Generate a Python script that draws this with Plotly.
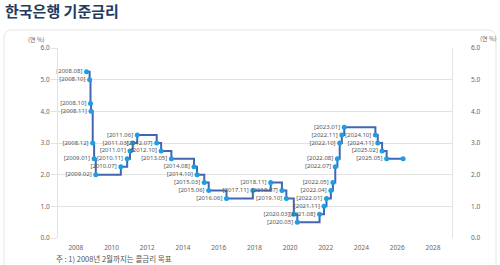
import plotly.graph_objects as go

dates = ["2008-08-07", "2008-10-09", "2008-10-27", "2008-11-07", "2008-12-11",
         "2009-01-09", "2009-02-12", "2010-07-09", "2010-11-16", "2011-01-13",
         "2011-03-10", "2011-06-10", "2012-07-12", "2012-10-11", "2013-05-09",
         "2014-08-14", "2014-10-15", "2015-03-12", "2015-06-11", "2016-06-09",
         "2017-11-30", "2018-11-30", "2019-07-18", "2019-10-16", "2020-03-17",
         "2020-05-28", "2021-08-26", "2021-11-25", "2022-01-14", "2022-04-14",
         "2022-05-26", "2022-07-13", "2022-08-25", "2022-10-12", "2022-11-24",
         "2023-01-13", "2024-10-11", "2024-11-28", "2025-02-25", "2025-05-29",
         "2026-05-01"]
rates = [5.25, 5.00, 4.25, 4.00, 3.00, 2.50, 2.00, 2.25, 2.50, 2.75,
         3.00, 3.25, 3.00, 2.75, 2.50, 2.25, 2.00, 1.75, 1.50, 1.25,
         1.50, 1.75, 1.50, 1.25, 0.75, 0.50, 0.75, 1.00, 1.25, 1.50,
         1.75, 2.25, 2.50, 3.00, 3.25, 3.50, 3.25, 3.00, 2.75, 2.50,
         2.50]
labels = ["[2008.08]", "[2008.10]", "[2008.10]", "[2008.11]", "[2008.12]",
          "[2009.01]", "[2009.02]", "[2010.07]", "[2010.11]", "[2011.01]",
          "[2011.03]", "[2011.06]", "[2012.07]", "[2012.10]", "[2013.05]",
          "[2014.08]", "[2014.10]", "[2015.03]", "[2015.06]", "[2016.06]",
          "[2017.11]", "[2018.11]", "[2019.07]", "[2019.10]", "[2020.03]",
          "[2020.05]", "[2021.08]", "[2021.11]", "[2022.01]", "[2022.04]",
          "[2022.05]", "[2022.07]", "[2022.08]", "[2022.10]", "[2022.11]",
          "[2023.01]", "[2024.10]", "[2024.11]", "[2025.02]", "[2025.05]",
          ""]
y_ticks = [0, 1, 2, 3, 4, 5, 6]

L, R, T, B = 58, 48, 48, 27
W, H = 500, 265
pw, ph = W - L - R, H - T - B

def px2paper(x, y):
    return (x - L) / pw, (H - B - y) / ph

fig = go.Figure()
fig.add_trace(go.Scatter(
    x=dates, y=rates, mode="lines", line=dict(shape="hv", color="#4466b0", width=2),
    hoverinfo="skip", showlegend=False))
fig.add_trace(go.Scatter(
    x=dates, y=rates, mode="markers+text", text=labels, textposition="middle left",
    textfont=dict(family="Noto Sans", size=6, color="#555555"),
    marker=dict(color="#1f9de0", size=5), showlegend=False, cliponaxis=False))
fig.add_trace(go.Scatter(x=[dates[0]], y=[rates[0]], yaxis="y2", mode="markers",
                         marker=dict(opacity=0), showlegend=False, hoverinfo="skip"))

# rounded card
r = 8
x0, y0 = px2paper(4, 30)
x1, y1 = px2paper(496, 275)
rx, ry = r / pw, r / ph
path = (f"M {x0+rx},{y0} L {x1-rx},{y0} Q {x1},{y0} {x1},{y0-ry} "
        f"L {x1},{y1+ry} Q {x1},{y1} {x1-rx},{y1} L {x0+rx},{y1} "
        f"Q {x0},{y1} {x0},{y1+ry} L {x0},{y0-ry} Q {x0},{y0} {x0+rx},{y0} Z")
fig.add_shape(type="path", path=path, xref="paper", yref="paper",
              line=dict(color="#e6e6e6", width=1), fillcolor="rgba(0,0,0,0)", layer="below")

ann_font = dict(family="Noto Sans CJK KR", size=6, color="#666666")
fig.add_annotation(text="(연 %)", x=px2paper(36, 0)[0], y=px2paper(0, 39)[1], xref="paper",
                   yref="paper", showarrow=False, font=ann_font, xanchor="center", yanchor="middle")
fig.add_annotation(text="(연 %)", x=px2paper(488, 0)[0], y=px2paper(0, 38)[1], xref="paper",
                   yref="paper", showarrow=False, font=ann_font, xanchor="center", yanchor="middle")
fig.add_annotation(text="주 : 1) 2008년 2월까지는 콜금리 목표", x=px2paper(54, 0)[0],
                   y=px2paper(0, 258)[1], xref="paper", yref="paper", showarrow=False,
                   font=dict(family="Noto Sans CJK KR", size=7.5, color="#555555"),
                   xanchor="left", yanchor="middle")

tf = dict(family="Noto Sans", size=6.5, color="#666666")
fig.update_layout(
    width=W, height=H, margin=dict(l=L, r=R, t=T, b=B),
    paper_bgcolor="white", plot_bgcolor="white",
    title=dict(text="<b>한국은행 기준금리</b>", x=0.01, xanchor="left", y=1 - 12 / H,
               yanchor="middle", font=dict(family="Noto Sans CJK KR", size=15, color="#233a5e")),
    xaxis=dict(type="date", range=["2007-01-01", "2029-01-25"], tick0="2008-01-01",
               dtick="M24", tickformat="%Y", showgrid=False, zeroline=False,
               tickfont=tf, ticks="", ticklabelstandoff=4),
    yaxis=dict(range=[0, 6], tickvals=y_ticks, ticktext=[f"{v:.1f}" for v in y_ticks],
               showgrid=True, gridcolor="#e3e3e3", gridwidth=1, zeroline=False,
               showline=True, linecolor="#e3e3e3", mirror=True, ticks="outside",
               ticklen=6, tickcolor="#e3e3e3", tickfont=tf),
    yaxis2=dict(range=[0, 6], tickvals=y_ticks, ticktext=[f"{v:.1f}" for v in y_ticks],
                overlaying="y", side="right", showgrid=False, zeroline=False,
                ticklabelstandoff=18, tickfont=tf),
)

fig.write_html("out.html")
